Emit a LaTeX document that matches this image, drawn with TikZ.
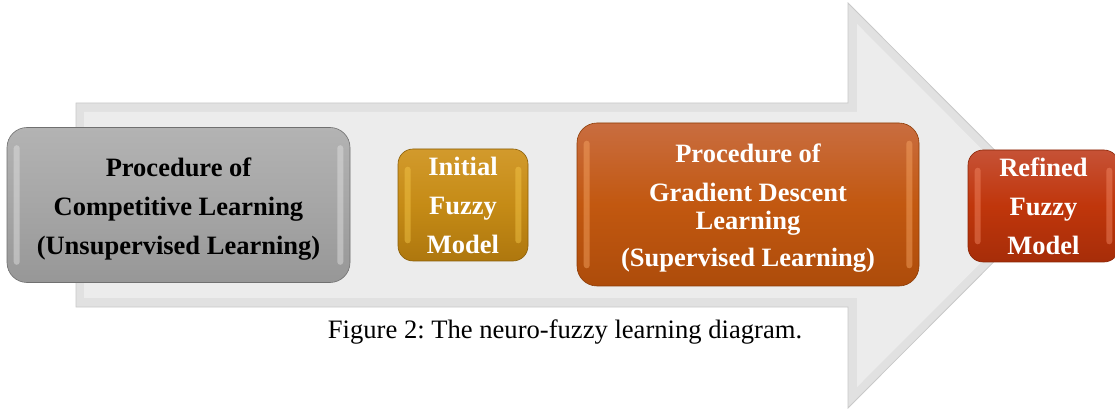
\documentclass[tikz,border=0pt]{standalone}
\usepackage{fontspec}
\setmainfont{Liberation Serif}
\usetikzlibrary{calc}
\frenchspacing
\definecolor{arrowedge}{HTML}{C9C9C9}
\definecolor{arrowout}{HTML}{E1E1E1}
\definecolor{arrowin}{HTML}{ECECEC}
\definecolor{grayT}{HTML}{B3B3B3}\definecolor{grayM}{HTML}{A6A6A6}\definecolor{grayB}{HTML}{979797}\definecolor{grayH}{HTML}{E4E4E4}\definecolor{grayD}{HTML}{707070}
\definecolor{goldT}{HTML}{D29A2C}\definecolor{goldM}{HTML}{C58B16}\definecolor{goldB}{HTML}{AE770E}\definecolor{goldH}{HTML}{F6C94A}\definecolor{goldD}{HTML}{8A5E08}
\definecolor{oranT}{HTML}{C96D40}\definecolor{oranM}{HTML}{C25810}\definecolor{oranB}{HTML}{AD4C0B}\definecolor{oranH}{HTML}{F8A866}\definecolor{oranD}{HTML}{8C3C06}
\definecolor{redT}{HTML}{C65236}\definecolor{redM}{HTML}{C0360B}\definecolor{redB}{HTML}{A62D09}\definecolor{redH}{HTML}{F48A66}\definecolor{redD}{HTML}{8A2506}
\tikzset{
  boxtext/.style={font=\bfseries\fontsize{26.5}{39}\selectfont, align=center, inner sep=0pt},
  bevel/.style n args={3}{rectangle, rounded corners=20pt, inner sep=0pt,
    top color=#1T, bottom color=#1B, middle color=#1M, draw=#1D, line width=0.6pt,
    minimum width=#2, minimum height=#3},
  shine/.style={fill=#1H, opacity=0.45, rounded corners=3pt, draw=none},
  caption/.style={font=\fontsize{26.6}{30}\selectfont, inner sep=0pt}
}
% highlight strips on the left and right inner sides of a box
\newcommand\sideshine[2]{%
  \fill[shine=#2] ($(#1.north west)+(7,18)$) rectangle ($(#1.south west)+(13,-18)$);
  \fill[shine=#2] ($(#1.north east)+(-13,18)$) rectangle ($(#1.south east)+(-7,-18)$);
}
\begin{document}
\begin{tikzpicture}[x=1pt,y=-1pt]
\useasboundingbox (0,0) rectangle (1115,411);
\fill[white] (0,0) rectangle (1115,411);

% the large background arrow
\fill[arrowout, draw=arrowedge, line width=0.8pt]
  (76,103) -- (848,103) -- (848,3) -- (1050,205.5) -- (848,408) -- (848,307) -- (76,307) -- cycle;
\fill[arrowin]
  (84,112) -- (857,112) -- (857,24) -- (1038,205.5) -- (857,387) -- (857,298) -- (84,298) -- cycle;

% stage boxes
\node[bevel={gray}{343pt}{155pt}] (comp) at (178.5,205) {};
\sideshine{comp}{gray}
\node[boxtext, text=black] (compt) at ($(comp.center)+(0,4)$)
  {Procedure of\\Competitive Learning\\(Unsupervised Learning)};

\node[bevel={gold}{130pt}{112pt}, rounded corners=15pt] (init) at (463,205) {};
\sideshine{init}{gold}
\node[boxtext, text=white] (initt) at (init.center) {Initial\\Fuzzy\\Model};

\node[bevel={oran}{342pt}{163pt}] (grad) at (748,204.5) {};
\sideshine{grad}{oran}
\node[boxtext, text=white] (gradt) at ($(grad.center)+(0,4)$)
  {Procedure of\\Gradient Descent\\[-11pt]Learning\\[-2pt](Supervised Learning)};

\node[bevel={red}{151pt}{112pt}, rounded corners=15pt] (refn) at (1043.5,206) {};
\sideshine{refn}{red}
\node[boxtext, text=white] (refnt) at (refn.center) {Refined\\Fuzzy\\Model};

% caption
\node[caption] (cap) at (565,332) {Figure 2: The neuro-fuzzy learning diagram.};
\end{tikzpicture}
\end{document}
